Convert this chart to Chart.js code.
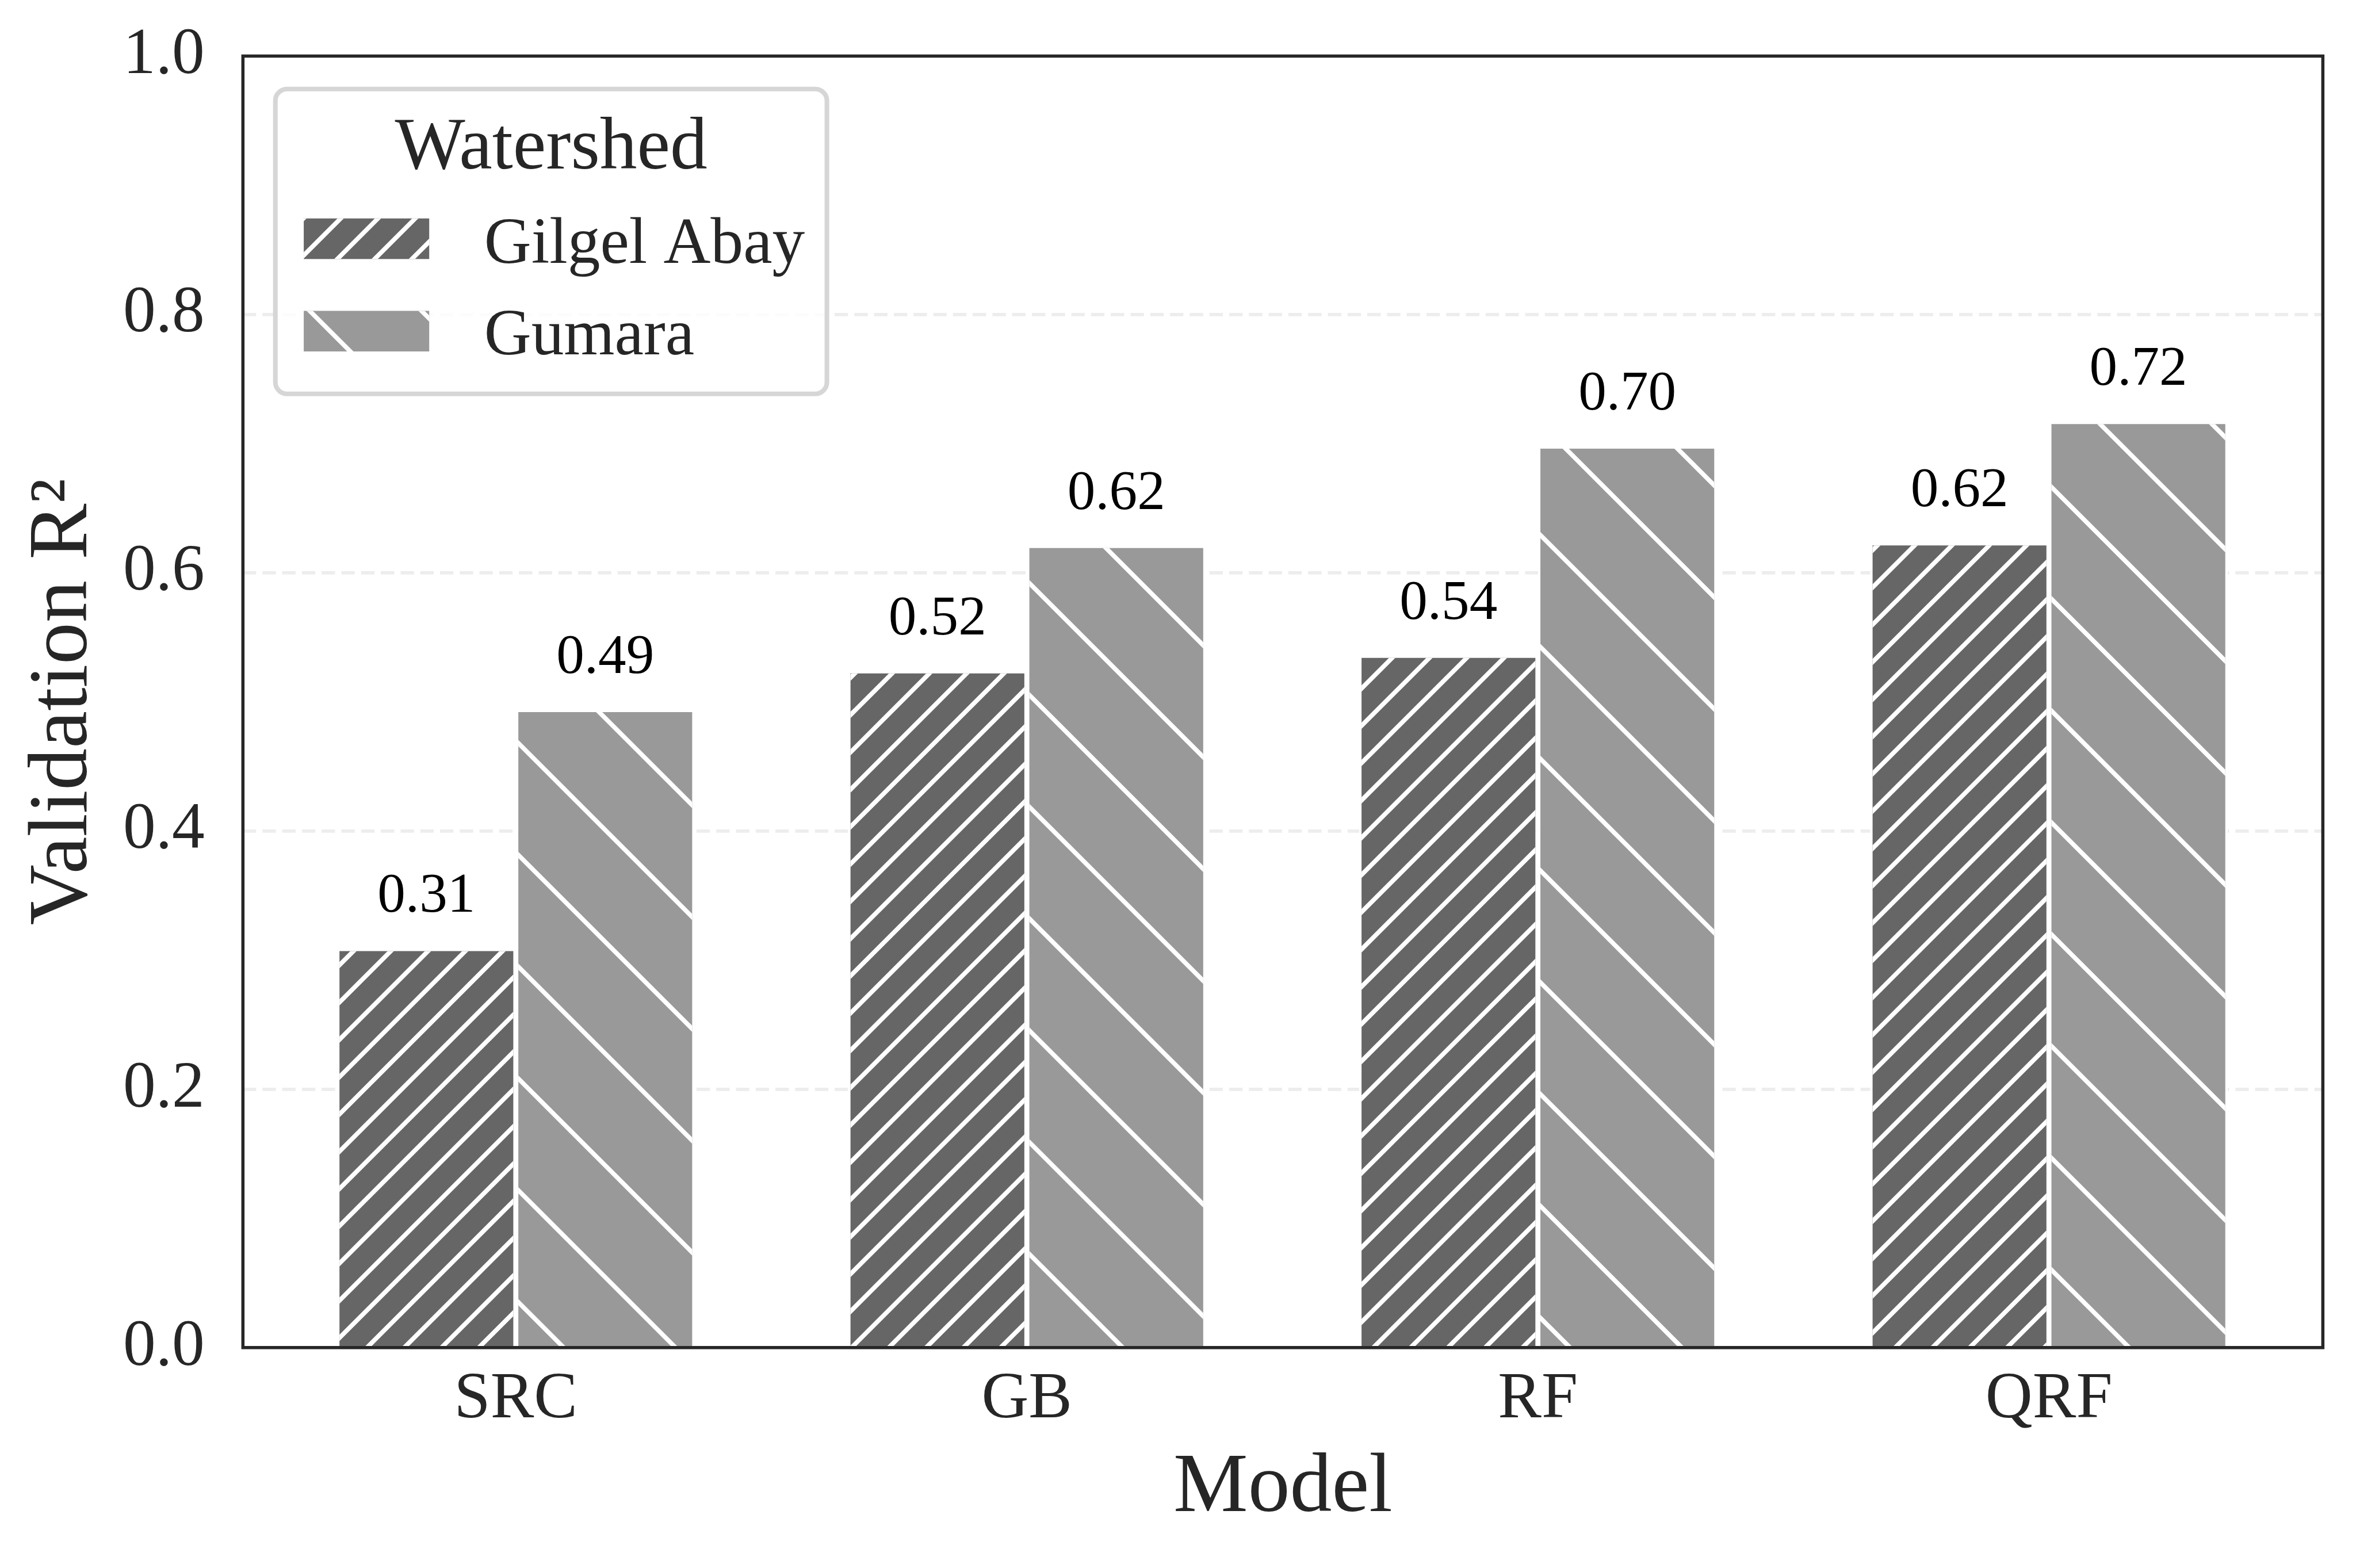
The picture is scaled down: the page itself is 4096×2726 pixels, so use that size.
<!DOCTYPE html>
<html>
<head>
<meta charset="utf-8">
<script src="https://cdn.jsdelivr.net/npm/chart.js@4.4.1/dist/chart.umd.min.js"></script>
<style>
  html, body { margin: 0; padding: 0; background: #ffffff; overflow: hidden; }
  canvas { display: block; }
</style>
</head>
<body>
<canvas id="chart" width="4096" height="2726"></canvas>
<script>
// ---- data ----
const models = ['SRC', 'GB', 'RF', 'QRF'];
const gilgelAbay = [0.309, 0.524, 0.536, 0.623];
const gumara = [0.494, 0.621, 0.698, 0.717];
const seriesNames = ['Gilgel Abay', 'Gumara'];
const yTickValues = [0, 0.2, 0.4, 0.6, 0.8, 1.0];
const legendTitle = 'Watershed';
const xTitle = 'Model';
const yTitle = 'Validation R²';

// ---- styling ----
const S = 0.972;
const FONT = "'Times New Roman', 'Liberation Serif', serif";
const TEXT = '#262626';

function drawHatch(ctx, x0, y0, x1, y1, h) {
  if (x1 <= x0 || y1 <= y0) return;
  ctx.save();
  ctx.beginPath();
  ctx.rect(x0, y0, x1 - x0, y1 - y0);
  ctx.clip();
  ctx.strokeStyle = '#ffffff';
  ctx.lineWidth = 8 * S;
  ctx.lineCap = 'butt';
  ctx.beginPath();
  const ya = y0 - 30, yb = y1 + 30;
  if (h.dir === '/') {
    const cMin = x0 + y0 - 80, cMax = x1 + y1 + 80;
    const k = Math.floor((cMin - h.phase) / h.spacing);
    for (let c = h.phase + k * h.spacing; c <= cMax; c += h.spacing) {
      ctx.moveTo(c - ya, ya);
      ctx.lineTo(c - yb, yb);
    }
  } else {
    const cMin = y0 - x1 - 80, cMax = y1 - x0 + 80;
    const k = Math.floor((cMin - h.phase) / h.spacing);
    for (let c = h.phase + k * h.spacing; c <= cMax; c += h.spacing) {
      ctx.moveTo(ya - c, ya);
      ctx.lineTo(yb - c, yb);
    }
  }
  ctx.stroke();
  ctx.restore();
}

const overlayPlugin = {
  id: 'overlay',
  afterDatasetsDraw(chart) {
    const ctx = chart.ctx;
    // hatching on bars
    chart.data.datasets.forEach((ds, di) => {
      const meta = chart.getDatasetMeta(di);
      meta.data.forEach((bar) => {
        const p = bar.getProps(['x', 'y', 'base', 'width'], true);
        const bw = ds.borderWidth;
        drawHatch(ctx, p.x - p.width / 2 + bw, p.y + bw, p.x + p.width / 2 - bw, p.base, ds.hatch);
      });
    });
    // frame (spines)
    const a = chart.chartArea;
    ctx.save();
    ctx.strokeStyle = TEXT;
    ctx.lineWidth = 5.7 * S;
    ctx.strokeRect(a.left, a.top, a.right - a.left, a.bottom - a.top);
    ctx.restore();
    // value labels
    ctx.save();
    ctx.fillStyle = '#000000';
    ctx.font = (100 * S) + 'px ' + FONT;
    ctx.textAlign = 'center';
    ctx.textBaseline = 'alphabetic';
    chart.data.datasets.forEach((ds, di) => {
      const meta = chart.getDatasetMeta(di);
      meta.data.forEach((bar, i) => {
        const p = bar.getProps(['x', 'y'], true);
        ctx.fillText(ds.data[i].y.toFixed(2), p.x, p.y - 65.5 * S);
      });
    });
    ctx.restore();
    // legend
    ctx.save();
    const L = 492.5 * S, T = 159.2 * S, R = 1479 * S, B = 704.5 * S, rad = 21 * S;
    ctx.beginPath();
    ctx.moveTo(L + rad, T);
    ctx.lineTo(R - rad, T);
    ctx.arcTo(R, T, R, T + rad, rad);
    ctx.lineTo(R, B - rad);
    ctx.arcTo(R, B, R - rad, B, rad);
    ctx.lineTo(L + rad, B);
    ctx.arcTo(L, B, L, B - rad, rad);
    ctx.lineTo(L, T + rad);
    ctx.arcTo(L, T, L + rad, T, rad);
    ctx.closePath();
    ctx.fillStyle = 'rgba(255,255,255,0.8)';
    ctx.fill();
    ctx.strokeStyle = '#d6d6d6';
    ctx.lineWidth = 8.3 * S;
    ctx.stroke();
    ctx.fillStyle = TEXT;
    ctx.font = (133.3 * S) + 'px ' + FONT;
    ctx.textAlign = 'center';
    ctx.textBaseline = 'alphabetic';
    ctx.fillText(legendTitle, (L + R) / 2, 301.5 * S);
    const patchTops = [390.7, 556.0];
    const patchBottoms = [463.3, 628.6];
    const textBase = [470, 634];
    chart.data.datasets.forEach((ds, di) => {
      const px0 = 543.3 * S, px1 = 767.7 * S;
      const py0 = patchTops[di] * S, py1 = patchBottoms[di] * S;
      ctx.fillStyle = ds.backgroundColor;
      ctx.fillRect(px0, py0, px1 - px0, py1 - py0);
      drawHatch(ctx, px0, py0, px1, py1, ds.hatch);
      ctx.fillStyle = TEXT;
      ctx.font = (116.7 * S) + 'px ' + FONT;
      ctx.textAlign = 'left';
      ctx.fillText(ds.label, 866 * S, textBase[di] * S);
    });
    ctx.restore();
  }
};

const ctx = document.getElementById('chart').getContext('2d');
new Chart(ctx, {
  type: 'bar',
  data: {
    datasets: [
      {
        label: seriesNames[0],
        data: models.map((m, i) => ({ x: i, y: gilgelAbay[i] })),
        backgroundColor: '#666666',
        borderColor: '#ffffff',
        borderWidth: 4.5 * S,
        borderSkipped: 'start',
        hatch: { dir: '/', spacing: 66.667 * S, phase: 0 }
      },
      {
        label: seriesNames[1],
        data: models.map((m, i) => ({ x: i, y: gumara[i] })),
        backgroundColor: '#999999',
        borderColor: '#ffffff',
        borderWidth: 4.5 * S,
        borderSkipped: 'start',
        hatch: { dir: '\\', spacing: 200 * S, phase: 2 * S }
      }
    ]
  },
  options: {
    responsive: false,
    devicePixelRatio: 1,
    animation: false,
    events: [],
    categoryPercentage: 0.7,
    barPercentage: 1.0,
    layout: { padding: { left: 0, top: 100.3 * S, right: 4096 - 4154.7 * S, bottom: 0 } },
    plugins: { legend: { display: false }, tooltip: { enabled: false } },
    scales: {
      x: {
        type: 'linear',
        position: 'bottom',
        min: -0.534,
        max: 3.536,
        offset: false,
        grid: { display: false, drawTicks: false, offset: false },
        border: { display: false },
        afterBuildTicks: (scale) => { scale.ticks = models.map((m, i) => ({ value: i })); },
        afterFit: (scale) => {
          scale.height = 2726 - 2410.3 * S;
          scale.paddingLeft = 0; scale.paddingRight = 0;
          scale.paddingTop = 0; scale.paddingBottom = 0;
        },
        ticks: {
          autoSkip: false,
          maxRotation: 0,
          padding: 23.7,
          color: TEXT,
          font: { family: FONT, size: 116.7 * S, lineHeight: 1.2 },
          callback: (v) => models[v] !== undefined ? models[v] : ''
        },
        title: {
          display: true,
          text: xTitle,
          color: TEXT,
          font: { family: FONT, size: 150 * S, lineHeight: 1.2 },
          padding: { top: 0, bottom: 49.4 }
        }
      },
      y: {
        type: 'linear',
        position: 'left',
        min: 0,
        max: 1,
        afterBuildTicks: (scale) => { scale.ticks = yTickValues.map((v) => ({ value: v })); },
        afterFit: (scale) => {
          scale.width = 434.5 * S;
          scale.paddingTop = 0; scale.paddingBottom = 0;
          scale.paddingLeft = 0; scale.paddingRight = 0;
        },
        grid: {
          drawTicks: false,
          lineWidth: 6 * S,
          color: (c) => (c.tick && (c.tick.value === 0 || c.tick.value === 1)) ? 'rgba(0,0,0,0)' : '#ededed'
        },
        border: { display: false, dash: [23.3, 11] },
        ticks: {
          padding: 66.5,
          color: TEXT,
          font: { family: FONT, size: 116.7 * S, lineHeight: 1.2 },
          callback: (v) => Number(v).toFixed(1)
        },
        title: {
          display: true,
          text: yTitle,
          color: TEXT,
          font: { family: FONT, size: 150 * S, lineHeight: 1.2 },
          padding: { top: 24.2, bottom: 0 }
        }
      }
    }
  },
  plugins: [overlayPlugin]
});
</script>
</body>
</html>
